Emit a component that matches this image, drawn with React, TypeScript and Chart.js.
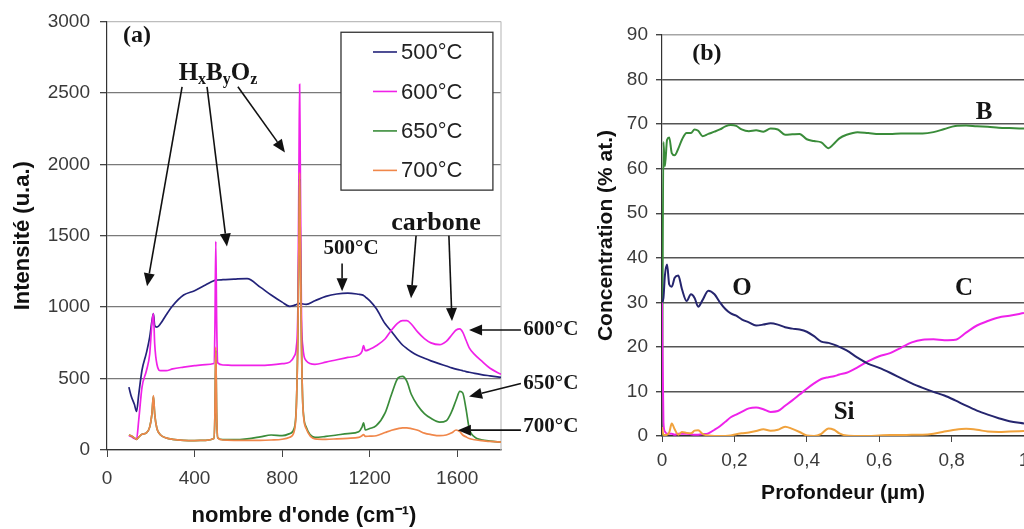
import React, { useEffect, useRef } from 'react';
import { Chart, registerables } from 'chart.js';
Chart.register(...registerables);

// ---------- Panel (a) : Raman spectra ----------
const wavenumbers = [100, 110, 125, 135, 145, 160, 180, 195, 205, 212, 218, 228, 245, 270, 300, 350, 400, 450, 488, 493, 497, 501, 506, 530, 580, 640, 700, 750, 800, 835, 855, 865, 872, 877, 880, 883, 888, 895, 910, 950, 1000, 1050, 1100, 1150, 1165, 1172, 1180, 1200, 1230, 1270, 1300, 1330, 1350, 1370, 1390, 1420, 1450, 1480, 1520, 1550, 1575, 1595, 1612, 1625, 1640, 1655, 1680, 1710, 1750, 1800];

const intensity500 = [440, 380, 320, 270, 390, 560, 680, 790, 900, 955, 870, 860, 885, 945, 1010, 1085, 1115, 1155, 1185, 1187, 1188, 1189, 1190, 1192, 1196, 1200, 1140, 1085, 1035, 1005, 1012, 1018, 1022, 1024, 1025, 1025, 1024, 1022, 1020, 1045, 1075, 1092, 1098, 1090, 1086, 1082, 1072, 1045, 990, 885, 830, 770, 735, 710, 688, 662, 642, 624, 603, 588, 575, 566, 560, 555, 549, 544, 536, 528, 519, 508];

const intensity600 = [100, 95, 80, 75, 210, 440, 555, 670, 880, 955, 740, 600, 555, 555, 568, 580, 590, 598, 605, 850, 1460, 900, 610, 595, 592, 592, 592, 596, 604, 615, 655, 720, 1000, 2000, 2560, 2000, 1000, 720, 625, 600, 615, 632, 648, 665, 690, 730, 695, 705, 730, 777, 840, 890, 905, 905, 882, 825, 780, 750, 737, 760, 805, 840, 848, 825, 770, 715, 668, 625, 572, 530];

const intensity650 = [105, 100, 85, 75, 90, 110, 120, 160, 250, 375, 250, 150, 105, 85, 75, 68, 66, 68, 80, 245, 700, 250, 85, 72, 72, 78, 92, 105, 100, 115, 150, 310, 800, 1500, 1900, 1500, 800, 310, 160, 88, 95, 105, 115, 128, 160, 190, 140, 150, 170, 258, 390, 505, 515, 480, 390, 310, 255, 222, 195, 205, 270, 350, 410, 400, 290, 150, 90, 72, 62, 55];

const intensity700 = [105, 100, 85, 75, 90, 110, 120, 160, 250, 380, 250, 150, 105, 85, 75, 68, 66, 68, 80, 250, 720, 260, 85, 70, 68, 68, 68, 70, 75, 90, 130, 300, 800, 1500, 1940, 1500, 800, 300, 150, 78, 75, 78, 82, 88, 100, 108, 95, 97, 100, 122, 138, 150, 155, 155, 150, 138, 118, 108, 100, 105, 120, 140, 128, 105, 92, 80, 72, 65, 60, 55];

const seriesLabelsA = ['500°C', '600°C', '650°C', '700°C'];
const seriesColorsA = ['#23237a', '#f021e8', '#3a8c3a', '#f0874a'];

// ---------- Panel (b) : depth profile ----------
const depth = [0, 0.004, 0.008, 0.014, 0.02, 0.027, 0.035, 0.045, 0.055, 0.068, 0.08, 0.09, 0.1, 0.112, 0.128, 0.145, 0.16, 0.175, 0.19, 0.205, 0.22, 0.24, 0.26, 0.28, 0.3, 0.32, 0.34, 0.36, 0.38, 0.4, 0.42, 0.44, 0.46, 0.475, 0.49, 0.51, 0.54, 0.57, 0.6, 0.63, 0.66, 0.69, 0.72, 0.75, 0.78, 0.81, 0.84, 0.87, 0.9, 0.93, 0.96, 1.0];

const concB = [0, 66, 60.5, 66.5, 67, 63.5, 63, 64.5, 66.5, 68, 68, 68.8, 68.5, 67.3, 67.8, 68.3, 68.8, 69.5, 69.8, 69.6, 68.8, 68.4, 68.6, 68.3, 69, 68.8, 67.6, 67.7, 67.8, 66.6, 66.2, 65.9, 64.6, 65.6, 66.8, 67.6, 68.2, 68, 67.8, 67.8, 67.9, 67.9, 67.9, 68.2, 68.9, 69.6, 69.7, 69.5, 69.4, 69.2, 69.1, 69];

const concO = [30, 31, 36, 38.5, 34, 33.5, 35.5, 36, 33, 30.3, 31.8, 31, 29, 30.5, 32.6, 31.8, 30, 28.5, 27.5, 27, 26.2, 25.5, 24.8, 25, 25.3, 25, 24.4, 24.1, 23.9, 23.4, 22.4, 21.2, 20.9, 20.5, 20, 19.2, 17.6, 16.2, 15.3, 14.2, 13, 11.8, 10.8, 9.9, 9.1, 8, 6.8, 5.7, 4.8, 4, 3.3, 2.8];

const concC = [30, 3, 1, 0.5, 0.5, 0.5, 0.3, 0.5, 0.5, 0.5, 0.4, 0.3, 0.3, 0.4, 0.6, 1.4, 2.2, 3.2, 4.2, 4.8, 5.4, 6.2, 6.4, 6, 5.4, 5.6, 6.8, 8, 9.3, 10.6, 11.8, 12.8, 13.2, 13.4, 13.8, 14.2, 15.4, 16.8, 17.9, 18.6, 19.8, 21, 21.6, 21.7, 21.5, 21.6, 23.2, 24.8, 25.8, 26.6, 27, 27.6];

const concSi = [2, 0.3, 0.2, 0.3, 0.8, 2.8, 1.5, 0.3, 0.9, 0.7, 0.6, 1.2, 1.3, 0.5, 0.1, 0, 0, 0, 0.1, 0.4, 0.6, 0.8, 1.1, 1.5, 1.2, 1.4, 2.1, 1.6, 0.9, 0.1, 0, 0.5, 1.7, 1.4, 0.6, 0.1, 0, 0, 0.1, 0.2, 0.2, 0.3, 0.3, 0.5, 1, 1.4, 1.6, 1.4, 1, 0.9, 1, 1.1];

const SANS = "'Liberation Sans', Arial, Helvetica, sans-serif";
const SERIF = "'Liberation Serif', 'Times New Roman', Times, serif";

function toPoints(xs: number[], ys: number[]) {
  return xs.map((x, i) => ({ x, y: ys[i] }));
}

function drawArrow(ctx: CanvasRenderingContext2D, x1: number, y1: number, x2: number, y2: number, head = 13, hw = 5.5) {
  const ang = Math.atan2(y2 - y1, x2 - x1);
  const bx = x2 - head * Math.cos(ang);
  const by = y2 - head * Math.sin(ang);
  ctx.beginPath();
  ctx.moveTo(x1, y1);
  ctx.lineTo(bx, by);
  ctx.stroke();
  ctx.beginPath();
  ctx.moveTo(x2, y2);
  ctx.lineTo(bx + hw * Math.sin(ang), by - hw * Math.cos(ang));
  ctx.lineTo(bx - hw * Math.sin(ang), by + hw * Math.cos(ang));
  ctx.closePath();
  ctx.fill();
}

// annotation placements (data coordinates)
const textsA = [
  { text: '(a)', x: 137, y: 2896, size: 24 },
  { text: '500°C', x: 1115, y: 1410, size: 21 },
  { text: 'carbone', x: 1503, y: 1590, size: 26 },
  { text: '600°C', x: 2028, y: 840, size: 21 },
  { text: '650°C', x: 2028, y: 465, size: 21 },
  { text: '700°C', x: 2028, y: 167, size: 21 },
];
const arrowsA = [
  [343, 2542, 183, 1146],
  [457, 2542, 548, 1424],
  [598, 2542, 813, 2083],
  [1074, 1306, 1074, 1111],
  [1412, 1500, 1389, 1063],
  [1562, 1500, 1576, 903],
  [1891, 840, 1654, 840],
  [1891, 465, 1654, 375],
  [1891, 139, 1603, 139],
];
const formulaA = { x: 507, y: 2646 };
const legendBoxA = { x1: 1069, x2: 1763, y1: 2924, y2: 1819 };

const textsB = [
  { text: '(b)', x: 0.124, y: 85.7, size: 24 },
  { text: 'B', x: 0.89, y: 72.7, size: 25 },
  { text: 'O', x: 0.221, y: 33, size: 25 },
  { text: 'C', x: 0.834, y: 33, size: 25 },
  { text: 'Si', x: 0.503, y: 5.2, size: 25 },
];

function drawTexts(chart: any, texts: { text: string; x: number; y: number; size: number }[]) {
  const { ctx, scales } = chart;
  ctx.save();
  ctx.fillStyle = '#151515';
  ctx.textAlign = 'center';
  ctx.textBaseline = 'middle';
  for (const t of texts) {
    ctx.font = `bold ${t.size}px ${SERIF}`;
    ctx.fillText(t.text, scales.x.getPixelForValue(t.x), scales.y.getPixelForValue(t.y));
  }
  ctx.restore();
}

const panelAPlugin = {
  id: 'panelAExtras',
  beforeDatasetsDraw(chart: any) {
    const { ctx, chartArea } = chart;
    ctx.save();
    ctx.strokeStyle = '#c0c0c0';
    ctx.lineWidth = 1.2;
    ctx.beginPath();
    ctx.moveTo(chartArea.right, chartArea.top);
    ctx.lineTo(chartArea.right, chartArea.bottom);
    ctx.stroke();
    ctx.restore();
  },
  afterDraw(chart: any) {
    const { ctx, scales } = chart;
    const px = (v: number) => scales.x.getPixelForValue(v);
    const py = (v: number) => scales.y.getPixelForValue(v);
    // legend
    const L = px(legendBoxA.x1), R = px(legendBoxA.x2), T = py(legendBoxA.y1), B = py(legendBoxA.y2);
    ctx.save();
    ctx.fillStyle = '#ffffff';
    ctx.fillRect(L, T, R - L, B - T);
    ctx.strokeStyle = '#333333';
    ctx.lineWidth = 1.3;
    ctx.strokeRect(L, T, R - L, B - T);
    const rowH = (B - T) / 4;
    chart.data.datasets.forEach((ds: any, i: number) => {
      const yy = T + rowH * (i + 0.5);
      ctx.strokeStyle = ds.borderColor;
      ctx.lineWidth = 1.6;
      ctx.beginPath();
      ctx.moveTo(L + 32, yy);
      ctx.lineTo(L + 56, yy);
      ctx.stroke();
      ctx.fillStyle = '#222';
      ctx.font = `22px ${SANS}`;
      ctx.textAlign = 'left';
      ctx.textBaseline = 'middle';
      ctx.fillText(ds.label, L + 60, yy + 1);
    });
    // arrows
    ctx.strokeStyle = '#111';
    ctx.fillStyle = '#111';
    ctx.lineWidth = 1.6;
    for (const a of arrowsA) drawArrow(ctx, px(a[0]), py(a[1]), px(a[2]), py(a[3]));
    // formula HxByOz
    const parts = [
      { t: 'H', sub: false }, { t: 'x', sub: true },
      { t: 'B', sub: false }, { t: 'y', sub: true },
      { t: 'O', sub: false }, { t: 'z', sub: true },
    ];
    const bigFont = `bold 25px ${SERIF}`;
    const subFont = `bold 16px ${SERIF}`;
    let total = 0;
    const widths = parts.map((p) => {
      ctx.font = p.sub ? subFont : bigFont;
      const w = ctx.measureText(p.t).width;
      total += w;
      return w;
    });
    let cx = px(formulaA.x) - total / 2;
    const base = py(formulaA.y) + 8;
    ctx.textAlign = 'left';
    ctx.textBaseline = 'alphabetic';
    ctx.fillStyle = '#151515';
    parts.forEach((p, i) => {
      ctx.font = p.sub ? subFont : bigFont;
      ctx.fillText(p.t, cx, p.sub ? base + 4 : base);
      cx += widths[i];
    });
    ctx.restore();
    drawTexts(chart, textsA);
  },
};

const panelBPlugin = {
  id: 'panelBExtras',
  afterDraw(chart: any) {
    drawTexts(chart, textsB);
  },
};

const plainNumber = (v: any) => String(v);

export default function App() {
  const refA = useRef<HTMLCanvasElement>(null);
  const refB = useRef<HTMLCanvasElement>(null);

  useEffect(() => {
    const seriesA = [intensity500, intensity600, intensity650, intensity700];
    const chartA = new Chart(refA.current as HTMLCanvasElement, {
      type: 'line',
      data: {
        datasets: seriesA.map((vals, i) => ({
          label: seriesLabelsA[i],
          data: toPoints(wavenumbers, vals),
          borderColor: seriesColorsA[i],
          backgroundColor: seriesColorsA[i],
          borderWidth: 1.7,
          pointRadius: 0,
          fill: false,
          cubicInterpolationMode: 'monotone' as const,
          order: 4 - i,
        })),
      },
      options: {
        animation: false,
        responsive: false,
        events: [],
        layout: { padding: { top: 18, right: 89, left: 0, bottom: 0 } },
        plugins: { legend: { display: false }, tooltip: { enabled: false } },
        scales: {
          x: {
            type: 'linear',
            min: 0,
            max: 1800,
            afterFit: (s: any) => { s.height = 79; },
            ticks: { stepSize: 400, includeBounds: false, maxRotation: 0, padding: 10, color: '#3a3a3a', font: { family: SANS, size: 19 }, callback: plainNumber },
            grid: { drawOnChartArea: false, tickLength: 7, tickColor: '#444', color: '#444' },
            border: { color: '#333', width: 1.2 },
            title: { display: true, text: "nombre d'onde (cm⁻¹)", color: '#111', font: { family: SANS, size: 22, weight: 'bold' }, padding: { top: 0, bottom: 0 } },
          },
          y: {
            type: 'linear',
            min: 0,
            max: 3000,
            afterFit: (s: any) => { s.width = 107; },
            ticks: { stepSize: 500, padding: 10, color: '#3a3a3a', font: { family: SANS, size: 19 }, callback: plainNumber },
            grid: {
              color: (c: any) => (c.tick && c.tick.value === 3000 ? '#bdbdbd' : '#7a7a7a'),
              lineWidth: 1.3,
              tickLength: 7,
              tickColor: '#444',
            },
            border: { color: '#333', width: 1.2 },
            title: { display: true, text: 'Intensité (u.a.)', color: '#111', font: { family: SANS, size: 22, weight: 'bold' }, padding: { top: 10, bottom: 0 } },
          },
        },
      } as any,
      plugins: [panelAPlugin],
    });

    const seriesB = [
      { label: 'B', vals: concB, color: '#3a8c3a', order: 4 },
      { label: 'C', vals: concC, color: '#ee22ea', order: 3 },
      { label: 'O', vals: concO, color: '#25256e', order: 2 },
      { label: 'Si', vals: concSi, color: '#f0a23c', order: 1 },
    ];
    const chartB = new Chart(refB.current as HTMLCanvasElement, {
      type: 'line',
      data: {
        datasets: seriesB.map((s) => ({
          label: s.label,
          data: toPoints(depth, s.vals),
          borderColor: s.color,
          backgroundColor: s.color,
          borderWidth: 2,
          pointRadius: 0,
          fill: false,
          cubicInterpolationMode: 'monotone' as const,
          order: s.order,
        })),
      },
      options: {
        animation: false,
        responsive: false,
        events: [],
        layout: { padding: { top: 35, right: 36, left: 0, bottom: 0 } },
        plugins: { legend: { display: false }, tooltip: { enabled: false } },
        scales: {
          x: {
            type: 'linear',
            min: 0,
            max: 1,
            afterFit: (s: any) => { s.height = 93; },
            ticks: {
              stepSize: 0.2,
              maxRotation: 0,
              padding: 7,
              color: '#3a3a3a',
              font: { family: SANS, size: 19 },
              callback: (v: any) => {
                const n = Math.round(Number(v) * 10) / 10;
                return String(n).replace('.', ',');
              },
            },
            grid: { drawOnChartArea: false, tickLength: 6, tickColor: '#444', color: '#444' },
            border: { color: '#333', width: 1.2 },
            title: { display: true, text: 'Profondeur (µm)', color: '#111', font: { family: SANS, size: 21, weight: 'bold' }, padding: { top: 0, bottom: 23 } },
          },
          y: {
            type: 'linear',
            min: 0,
            max: 90,
            afterFit: (s: any) => { s.width = 82; },
            ticks: { stepSize: 10, padding: 8, color: '#3a3a3a', font: { family: SANS, size: 19 }, callback: plainNumber },
            grid: {
              color: (c: any) => (c.tick && c.tick.value === 90 ? '#a5a5a5' : '#555555'),
              lineWidth: 1.4,
              tickLength: 6,
              tickColor: '#444',
            },
            border: { color: '#333', width: 1.2 },
            title: { display: true, text: 'Concentration (% at.)', color: '#111', font: { family: SANS, size: 21, weight: 'bold' }, padding: { top: 14, bottom: 0 } },
          },
        },
      } as any,
      plugins: [panelBPlugin],
    });

    return () => {
      chartA.destroy();
      chartB.destroy();
    };
  }, []);

  return (
    <div style={{ position: 'fixed', left: 0, top: 0, width: 1024, height: 529, overflow: 'hidden', background: '#ffffff' }}>
      <canvas ref={refA} width={590} height={529} style={{ position: 'absolute', left: 0, top: 0, width: 590, height: 529 }} />
      <canvas ref={refB} width={480} height={529} style={{ position: 'absolute', left: 580, top: 0, width: 480, height: 529 }} />
    </div>
  );
}
